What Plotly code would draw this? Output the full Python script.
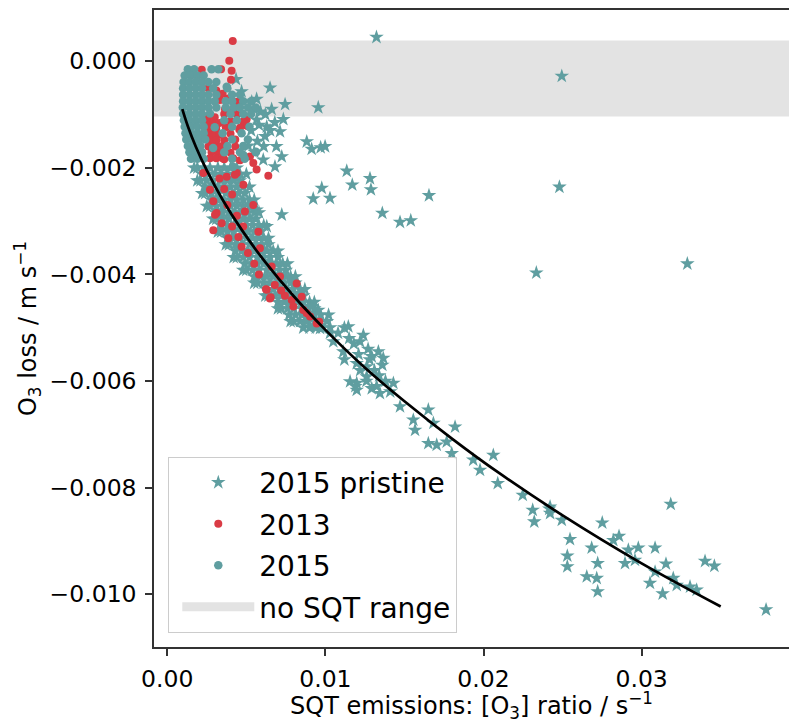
import plotly.graph_objects as go

TEAL = "#5F9EA0"
RED = "#DA3B45"
BAND = "#E3E3E3"
FONT = "DejaVu Sans"

x_ticks = [0.00, 0.01, 0.02, 0.03]
y_ticks = [0.000, -0.002, -0.004, -0.006, -0.008, -0.010]
band_y = [-0.00104, 0.00039]

# fitted curve
fit_x = [0.00095, 0.0013, 0.0018, 0.0025, 0.0035, 0.0047, 0.0062, 0.0080,
         0.0100, 0.0125, 0.0150, 0.0180, 0.0210, 0.0250, 0.0300, 0.0350]
fit_y = [-0.00090, -0.00122, -0.00160, -0.00205, -0.00260, -0.00316, -0.00377, -0.00441,
         -0.00504, -0.00575, -0.00638, -0.00708, -0.00773, -0.00852, -0.00942, -0.01023]

# "2015 pristine" (stars): scattered points
pristine_x = [
    0.01323, 0.02495, 0.00955, 0.00882, 0.00913, 0.0097, 0.00998, 0.01135, 0.01282, 0.0117,
    0.01288, 0.00977, 0.00923, 0.01029, 0.01655, 0.0136, 0.01472, 0.0154, 0.0248, 0.02334, 0.03289,
    0.00435, 0.0047, 0.00565, 0.0065, 0.00745, 0.00534, 0.00734, 0.00713, 0.00629, 0.00618,
    0.00565, 0.00607, 0.00724, 0.00681, 0.00512, 0.00724, 0.00629, 0.00565, 0.00523, 0.0059, 0.0068,
    0.0055, 0.0062, 0.0066, 0.0058, 0.0065, 0.0053, 0.0057, 0.0061, 0.0055, 0.0069,
    0.0017, 0.0019, 0.0022, 0.0025, 0.0029, 0.0032, 0.0037, 0.0042, 0.0048, 0.0055, 0.0062, 0.0070, 0.0078,
    0.0050, 0.0052, 0.0055, 0.0058, 0.0061, 0.0064, 0.0070, 0.0076, 0.0081, 0.0087, 0.0093, 0.0102, 0.0112,
    0.00892, 0.00955, 0.00913, 0.0084, 0.00903, 0.00966, 0.01029, 0.0105, 0.01113, 0.01145,
    0.0124, 0.01219, 0.01335, 0.01366, 0.01293, 0.01198, 0.01261, 0.01156, 0.01198, 0.01198,
    0.01261, 0.01293, 0.01324, 0.01345, 0.0143, 0.01472, 0.01556, 0.01651, 0.01567, 0.01683,
    0.0182, 0.01651, 0.01704, 0.01767, 0.01799, 0.01935, 0.01978, 0.02062, 0.0209, 0.02248,
    0.02311, 0.02321, 0.02416, 0.02421, 0.02421, 0.02495, 0.02751, 0.02547, 0.0253, 0.0253,
    0.02684, 0.02722, 0.02653, 0.02716, 0.02722, 0.02857, 0.02821, 0.02916, 0.02979, 0.02895,
    0.02958, 0.03085, 0.03184, 0.03154, 0.03085, 0.03053, 0.03133, 0.032, 0.03222, 0.03306,
    0.03348, 0.03401, 0.0346, 0.03787, 0.0118, 0.0127, 0.0131, 0.0138, 0.0122,
    0.0108, 0.0115, 0.0121, 0.0128, 0.0134, 0.0126, 0.0141, 0.0112, 0.0136, 0.0119,
]
pristine_y = [
    0.00045, -0.00028, -0.00087, -0.00151, -0.00165, -0.00162, -0.0016, -0.00206, -0.0022, -0.00232,
    -0.00241, -0.00238, -0.00258, -0.00257, -0.00252, -0.00285, -0.00302, -0.00299, -0.00236, -0.00397, -0.0038,
    -0.00034, -0.00057, -0.00071, -0.0005, -0.00081, -0.00076, -0.00109, -0.00132, -0.00123, -0.00141,
    -0.0011, -0.00185, -0.00179, -0.00198, -0.00159, -0.00288, -0.0031, -0.00279, -0.00273, -0.00095, -0.00115,
    -0.0009, -0.001, -0.0009, -0.0012, -0.0013, -0.0013, -0.0015, -0.0016, -0.0017, -0.0016,
    -0.002, -0.00224, -0.00248, -0.00272, -0.00296, -0.0032, -0.00344, -0.00368, -0.00392, -0.00416, -0.0044, -0.00464, -0.00488,
    -0.00212, -0.00236, -0.0026, -0.00284, -0.00308, -0.00332, -0.00356, -0.0038, -0.00404, -0.00428, -0.00452, -0.00476, -0.005,
    -0.00473, -0.00467, -0.0046, -0.00435, -0.00498, -0.00501, -0.0051, -0.00526, -0.00545, -0.00498,
    -0.00514, -0.00526, -0.00545, -0.00557, -0.00554, -0.00567, -0.00573, -0.00601, -0.00604, -0.00617,
    -0.00592, -0.00614, -0.0061, -0.00623, -0.00604, -0.00648, -0.00673, -0.00654, -0.00692, -0.00679,
    -0.00686, -0.00717, -0.0072, -0.00714, -0.00736, -0.00748, -0.00767, -0.00739, -0.00792, -0.00814,
    -0.00842, -0.00864, -0.0084, -0.00836, -0.00848, -0.00861, -0.00866, -0.00897, -0.00928, -0.00948,
    -0.00913, -0.00942, -0.00967, -0.0097, -0.00995, -0.00891, -0.00899, -0.00917, -0.00913, -0.00942,
    -0.00936, -0.00913, -0.00831, -0.00943, -0.00958, -0.00979, -0.00999, -0.0097, -0.00983, -0.00986,
    -0.00992, -0.00938, -0.00947, -0.01029, -0.0053, -0.0054, -0.0058, -0.006, -0.0058,
    -0.0051, -0.0052, -0.0055, -0.0056, -0.0059, -0.006, -0.0062, -0.0056, -0.0057, -0.0061,
]

# "2015 pristine" (stars): dense band along the curve
pristine_band_x = [
    0.0019, 0.0023, 0.0027, 0.0032, 0.0036, 0.0040, 0.0044,
    0.0022, 0.0026, 0.0030, 0.0034, 0.0038, 0.0042, 0.0046,
    0.0021, 0.0025, 0.0029, 0.0034, 0.0038, 0.0042, 0.0046,
    0.0024, 0.0028, 0.0032, 0.0036, 0.0040, 0.0044, 0.0048,
    0.0024, 0.0028, 0.0032, 0.0037, 0.0041, 0.0045, 0.0049,
    0.0028, 0.0032, 0.0036, 0.0040, 0.0044, 0.0048, 0.0052,
    0.0027, 0.0031, 0.0035, 0.0040, 0.0044, 0.0048, 0.0052,
    0.0031, 0.0035, 0.0039, 0.0043, 0.0047, 0.0051, 0.0055,
    0.0031, 0.0035, 0.0039, 0.0044, 0.0048, 0.0052, 0.0056,
    0.0034, 0.0038, 0.0042, 0.0046, 0.0050, 0.0054, 0.0058,
    0.0034, 0.0038, 0.0042, 0.0047, 0.0051, 0.0055, 0.0059,
    0.0038, 0.0042, 0.0046, 0.0050, 0.0054, 0.0058, 0.0061,
    0.0039, 0.0043, 0.0047, 0.0052, 0.0056, 0.0060, 0.0064,
    0.0043, 0.0047, 0.0051, 0.0055, 0.0059, 0.0063, 0.0067,
    0.0044, 0.0048, 0.0052, 0.0057, 0.0061, 0.0065, 0.0070,
    0.0049, 0.0053, 0.0057, 0.0061, 0.0065, 0.0069, 0.0073,
    0.0050, 0.0054, 0.0058, 0.0063, 0.0067, 0.0071, 0.0075,
    0.0055, 0.0059, 0.0063, 0.0067, 0.0071, 0.0075, 0.0078,
    0.0057, 0.0061, 0.0065, 0.0070, 0.0074, 0.0078, 0.0081,
    0.0063, 0.0067, 0.0071, 0.0075, 0.0079, 0.0084,
    0.0064, 0.0068, 0.0072, 0.0077, 0.0081, 0.0086,
    0.0070, 0.0074, 0.0078, 0.0082, 0.0086, 0.0090,
    0.0072, 0.0076, 0.0080, 0.0085, 0.0089, 0.0093,
    0.0077, 0.0081, 0.0085, 0.0089, 0.0093, 0.0097,
    0.0080, 0.0084, 0.0088, 0.0093, 0.0097, 0.0101,
    0.0086, 0.0090, 0.0094, 0.0098, 0.0103,
]
pristine_band_y = [
    -0.00200, -0.00200, -0.00200, -0.00200, -0.00200, -0.00200, -0.00200,
    -0.00212, -0.00212, -0.00212, -0.00212, -0.00212, -0.00212, -0.00212,
    -0.00224, -0.00224, -0.00224, -0.00224, -0.00224, -0.00224, -0.00224,
    -0.00236, -0.00236, -0.00236, -0.00236, -0.00236, -0.00236, -0.00236,
    -0.00248, -0.00248, -0.00248, -0.00248, -0.00248, -0.00248, -0.00248,
    -0.00260, -0.00260, -0.00260, -0.00260, -0.00260, -0.00260, -0.00260,
    -0.00272, -0.00272, -0.00272, -0.00272, -0.00272, -0.00272, -0.00272,
    -0.00284, -0.00284, -0.00284, -0.00284, -0.00284, -0.00284, -0.00284,
    -0.00296, -0.00296, -0.00296, -0.00296, -0.00296, -0.00296, -0.00296,
    -0.00308, -0.00308, -0.00308, -0.00308, -0.00308, -0.00308, -0.00308,
    -0.00320, -0.00320, -0.00320, -0.00320, -0.00320, -0.00320, -0.00320,
    -0.00332, -0.00332, -0.00332, -0.00332, -0.00332, -0.00332, -0.00332,
    -0.00344, -0.00344, -0.00344, -0.00344, -0.00344, -0.00344, -0.00344,
    -0.00356, -0.00356, -0.00356, -0.00356, -0.00356, -0.00356, -0.00356,
    -0.00368, -0.00368, -0.00368, -0.00368, -0.00368, -0.00368, -0.00368,
    -0.00380, -0.00380, -0.00380, -0.00380, -0.00380, -0.00380, -0.00380,
    -0.00392, -0.00392, -0.00392, -0.00392, -0.00392, -0.00392, -0.00392,
    -0.00404, -0.00404, -0.00404, -0.00404, -0.00404, -0.00404, -0.00404,
    -0.00416, -0.00416, -0.00416, -0.00416, -0.00416, -0.00416, -0.00416,
    -0.00428, -0.00428, -0.00428, -0.00428, -0.00428, -0.00428,
    -0.00440, -0.00440, -0.00440, -0.00440, -0.00440, -0.00440,
    -0.00452, -0.00452, -0.00452, -0.00452, -0.00452, -0.00452,
    -0.00464, -0.00464, -0.00464, -0.00464, -0.00464, -0.00464,
    -0.00476, -0.00476, -0.00476, -0.00476, -0.00476, -0.00476,
    -0.00488, -0.00488, -0.00488, -0.00488, -0.00488, -0.00488,
    -0.00500, -0.00500, -0.00500, -0.00500, -0.00500,
]

# "2013" (red dots)
y2013_x = [
    0.00414, 0.00392, 0.0034, 0.00407, 0.00403, 0.00218, 0.00259, 0.0035, 0.00443, 0.00502,
    0.00502, 0.00455, 0.00365, 0.00333, 0.0031, 0.00385,
    0.0026, 0.003, 0.0025, 0.0029, 0.0033, 0.0027, 0.0031, 0.0025, 0.0029, 0.0033,
    0.0027, 0.0031, 0.0026, 0.003, 0.0034, 0.0028, 0.0032, 0.0027, 0.0031, 0.0035,
    0.00417, 0.00544, 0.00565, 0.00639, 0.00523, 0.00376, 0.00439, 0.00417,
    0.00376, 0.00428, 0.00481, 0.00544, 0.00312, 0.00344, 0.00386, 0.0047, 0.00576, 0.00586,
    0.0066, 0.00713, 0.00818, 0.00629, 0.00649, 0.00744, 0.00787, 0.0085, 0.0086, 0.00903,
    0.00945, 0.00228, 0.00291, 0.00882, 0.00961, 0.00302, 0.00797, 0.0027, 0.00491, 0.00291,
    0.00624, 0.00654,
    0.0036, 0.0044, 0.0040, 0.0048, 0.0037, 0.0046, 0.0040, 0.0043, 0.0036, 0.0034,
    0.0043, 0.0040, 0.0036, 0.0046,
    0.0033, 0.0036, 0.0041, 0.0038, 0.0044, 0.0041, 0.0048, 0.0045, 0.0051, 0.0055,
    0.0058, 0.0068, 0.0072,
]
y2013_y = [
    0.00038, 0.00001, -0.00015, -0.00018, -0.00035, -0.00016, -0.00051, -0.00061, -0.00076, -0.00109,
    -0.00121, -0.00128, -0.0009, -0.00073, -0.00055, -0.0007,
    -0.00105, -0.00105, -0.00116, -0.00116, -0.00116, -0.00127, -0.00127, -0.00138, -0.00138, -0.00138,
    -0.00149, -0.00149, -0.0016, -0.0016, -0.0016, -0.00171, -0.00171, -0.00182, -0.00182, -0.00182,
    -0.00182, -0.00191, -0.00203, -0.00215, -0.00179, -0.0016, -0.0021, -0.00091,
    -0.00217, -0.00213, -0.00232, -0.0027, -0.00285, -0.00304, -0.00332, -0.00348, -0.0032, -0.00351,
    -0.00385, -0.00404, -0.00417, -0.00429, -0.00445, -0.0044, -0.00448, -0.00442, -0.00467, -0.00479,
    -0.00492, -0.0021, -0.00263, -0.00473, -0.00489, -0.00288, -0.0046, -0.00241, -0.00282, -0.00317,
    -0.00428, -0.00443,
    -0.00099, -0.001, -0.00112, -0.00113, -0.00124, -0.00125, -0.00136, -0.00147, -0.00148, -0.0016,
    -0.0016, -0.00172, -0.00184, -0.00186,
    -0.0022, -0.0024, -0.0025, -0.0027, -0.0029, -0.0031, -0.0031, -0.0033, -0.0036, -0.0038,
    -0.004, -0.0042, -0.0043,
]

# "2015" (teal dots)
y2015_x = [
    0.0013, 0.0017, 0.0028, 0.00323,
    0.0011, 0.0015, 0.0019, 0.0023,
    0.00103, 0.0014, 0.0018, 0.0022, 0.0026, 0.0031,
    0.0010, 0.0014, 0.0018, 0.0022, 0.0029, 0.0038,
    0.0010, 0.0014, 0.0018, 0.0022, 0.0026, 0.0031, 0.0041, 0.0046,
    0.0010, 0.0014, 0.0018, 0.0022, 0.0026, 0.0030, 0.0037, 0.0041, 0.0048, 0.0053,
    0.00098, 0.0014, 0.0018, 0.0022, 0.0026, 0.0031, 0.0037, 0.0042, 0.0046, 0.0051, 0.0056,
    0.0010, 0.0014, 0.0018, 0.0022, 0.0040, 0.0048, 0.0053,
    0.00105, 0.0014, 0.0018, 0.0022, 0.0036, 0.0044,
    0.0011, 0.0015, 0.0019, 0.0023, 0.0041, 0.0052,
    0.00115, 0.0015, 0.0019, 0.0023, 0.0035, 0.0047,
    0.0012, 0.0016, 0.0020, 0.0024, 0.0041, 0.0051,
    0.0013, 0.0017, 0.0021, 0.0038, 0.0048,
    0.0014, 0.0018, 0.0022, 0.0036, 0.0046, 0.0056,
    0.0015, 0.0019, 0.0023, 0.0041, 0.0049,
    0.00376, 0.00561, 0.00417, 0.00481, 0.0029, 0.0030, 0.0027,
]
y2015_y = [
    -0.00015, -0.00015, -0.00015, -0.00015,
    -0.00027, -0.00027, -0.00027, -0.00027,
    -0.00039, -0.00039, -0.00039, -0.00039, -0.00039, -0.00039,
    -0.00051, -0.00051, -0.00051, -0.00051, -0.00051, -0.00051,
    -0.00063, -0.00063, -0.00063, -0.00063, -0.00063, -0.00063, -0.00063, -0.00063,
    -0.00075, -0.00075, -0.00075, -0.00075, -0.00075, -0.00075, -0.00075, -0.00075, -0.00075, -0.00075,
    -0.00087, -0.00087, -0.00087, -0.00087, -0.00087, -0.00087, -0.00087, -0.00087, -0.00087, -0.00087, -0.00087,
    -0.00099, -0.00099, -0.00099, -0.00099, -0.00099, -0.00099, -0.00099,
    -0.00111, -0.00111, -0.00111, -0.00111, -0.00111, -0.00111,
    -0.00123, -0.00123, -0.00123, -0.00123, -0.00123, -0.00123,
    -0.00135, -0.00135, -0.00135, -0.00135, -0.00135, -0.00135,
    -0.00147, -0.00147, -0.00147, -0.00147, -0.00147, -0.00147,
    -0.00159, -0.00159, -0.00159, -0.00159, -0.00159,
    -0.00171, -0.00171, -0.00171, -0.00171, -0.00171, -0.00171,
    -0.00183, -0.00183, -0.00183, -0.00183, -0.00183,
    -0.00048, -0.0017, -0.00198, -0.00176, -0.00163, -0.00124, -0.00098,
]

assert len(pristine_x) == len(pristine_y), (len(pristine_x), len(pristine_y))
assert len(pristine_band_x) == len(pristine_band_y), (len(pristine_band_x), len(pristine_band_y))
assert len(y2013_x) == len(y2013_y), (len(y2013_x), len(y2013_y))
assert len(y2015_x) == len(y2015_y), (len(y2015_x), len(y2015_y))
assert len(fit_x) == len(fit_y)

fig = go.Figure()
fig.add_shape(type="rect", xref="paper", yref="y", x0=0, x1=1,
              y0=band_y[0], y1=band_y[1], fillcolor=BAND, line_width=0, layer="below")

fig.add_trace(go.Scatter(x=pristine_band_x + pristine_x, y=pristine_band_y + pristine_y,
                         mode="markers", name="2015 pristine",
                         marker=dict(symbol="star", size=11, color=TEAL, line_width=0),
                         legendrank=1, legendgroup="g1"))
fig.add_trace(go.Scatter(x=y2013_x, y=y2013_y, mode="markers", name="2013",
                         marker=dict(symbol="circle", size=8, color=RED, line_width=0),
                         legendrank=2, legendgroup="g2"))
fig.add_trace(go.Scatter(x=y2015_x, y=y2015_y, mode="markers", name="2015",
                         marker=dict(symbol="circle", size=8.5, color=TEAL, line_width=0),
                         legendrank=3, legendgroup="g3"))
fig.add_trace(go.Scatter(x=fit_x, y=fit_y, mode="lines", showlegend=False,
                         line=dict(color="black", width=2.7, shape="spline")))
fig.add_trace(go.Scatter(x=[None], y=[None], mode="lines", name="no SQT range",
                         line=dict(color=BAND, width=9), legendrank=4, legendgroup="g4"))

axis_common = dict(showgrid=False, zeroline=False, showline=True, linecolor="#333333",
                   linewidth=1.5, ticks="outside", ticklen=7, tickwidth=1.5,
                   tickcolor="#333333", tickfont=dict(size=23.5, color="black", family=FONT))

fig.update_xaxes(range=[-0.00084, 0.03932], tickvals=x_ticks, tickformat=".2f", mirror=True,
                 title=dict(text="SQT emissions: [O<sub>3</sub>] ratio / s<sup>\u22121</sup>",
                            font=dict(size=24, color="black", family=FONT), standoff=10),
                 ticklabelstandoff=3, **axis_common)
fig.update_yaxes(range=[-0.01099, 0.00096], tickvals=y_ticks, tickformat=".3f", mirror=False,
                 title=dict(text="O<sub>3</sub> loss / m s<sup>\u22121</sup>",
                            font=dict(size=24, color="black", family=FONT), standoff=6),
                 ticklabelstandoff=4, **axis_common)

fig.update_layout(
    width=789, height=723,
    margin=dict(l=154, r=0, t=10, b=76, autoexpand=False),
    paper_bgcolor="white", plot_bgcolor="white",
    font=dict(family=FONT, color="black"),
    showlegend=True,
    legend=dict(x=0.0225, y=0.0224, xanchor="left", yanchor="bottom",
                bgcolor="rgba(255,255,255,0.8)", bordercolor="#cccccc", borderwidth=1,
                font=dict(size=28, family=FONT, color="black"),
                tracegroupgap=2, itemwidth=72, indentation=8),
)

fig.write_html("out.html", include_plotlyjs=True, config={"displayModeBar": False},
               post_script="document.body.style.margin='0';document.body.style.overflow='hidden';")
